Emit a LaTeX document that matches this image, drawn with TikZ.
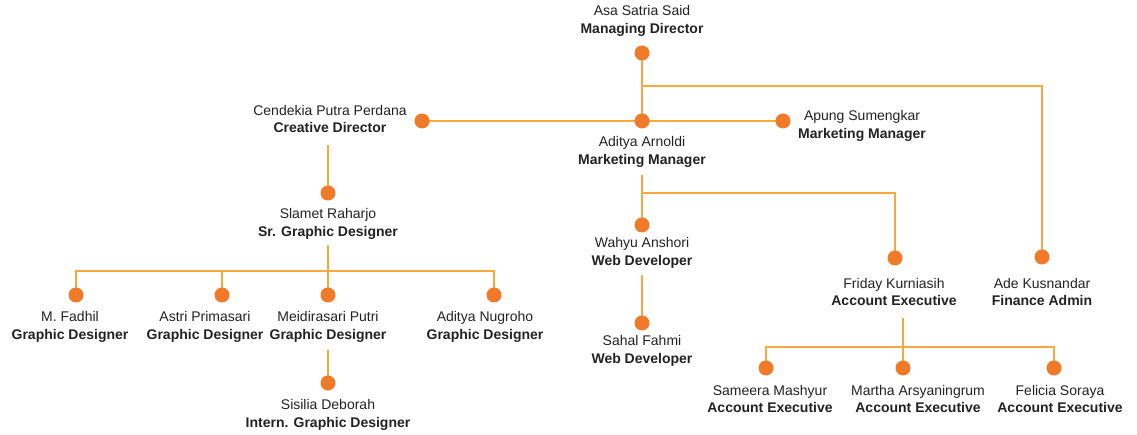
\documentclass[tikz,border=0pt]{standalone}
\usepackage{fontspec}
\setmainfont{Liberation Sans}
\definecolor{dotc}{HTML}{F07A28}
\definecolor{linec}{HTML}{F6A93C}
\definecolor{txtc}{HTML}{222222}
\pgfdeclarelayer{bg}
\pgfsetlayers{bg,main}
\tikzset{
  pdot/.style={circle,fill=dotc,draw=none,minimum size=15pt,inner sep=0pt},
  person/.style={align=center,inner sep=0pt,text=txtc,font=\fontsize{14}{17.5}\selectfont},
  conn/.style={draw=linec,line width=2pt}
}
\newcommand{\pp}[2]{#1\\\textbf{#2}}
\begin{document}
\begin{tikzpicture}[x=1pt,y=-1pt]
\useasboundingbox (0,0) rectangle (1137,435);
% texts
\node[person] (tmd) at (642,21) {\pp{Asa Satria Said}{Managing Director}};
\node[person] (tcd) at (330,119) {\pp{Cendekia Putra Perdana}{Creative Director}};
\node[person] (tap) at (862,126) {\pp{Apung Sumengkar}{Marketing Manager}};
\node[person] (taa) at (642,152) {\pp{Aditya Arnoldi}{Marketing Manager}};
\node[person] (tsr) at (328,224) {\pp{Slamet Raharjo}{Sr. Graphic Designer}};
\node[person] (tmf) at (70,327) {\pp{M. Fadhil}{Graphic Designer}};
\node[person] (tas) at (205,327) {\pp{Astri Primasari}{Graphic Designer}};
\node[person] (tmp) at (328,327) {\pp{Meidirasari Putri}{Graphic Designer}};
\node[person] (tan) at (485,327) {\pp{Aditya Nugroho}{Graphic Designer}};
\node[person] (tsd) at (328,415) {\pp{Sisilia Deborah}{Intern. Graphic Designer}};
\node[person] (twa) at (642,253) {\pp{Wahyu Anshori}{Web Developer}};
\node[person] (tsf) at (642,351) {\pp{Sahal Fahmi}{Web Developer}};
\node[person] (tfk) at (894,292) {\pp{Friday Kurniasih}{Account Executive}};
\node[person] (tak) at (1042,292) {\pp{Ade Kusnandar}{Finance Admin}};
\node[person] (tsm) at (770,399) {\pp{Sameera Mashyur}{Account Executive}};
\node[person] (tma) at (918,399) {\pp{Martha Arsyaningrum}{Account Executive}};
\node[person] (tfs) at (1060,399) {\pp{Felicia Soraya}{Account Executive}};
% dots
\node[pdot] (dmd) at (642,53) {};
\node[pdot] (daa) at (642,121) {};
\node[pdot] (dcd) at (422,121) {};
\node[pdot] (dap) at (783,121) {};
\node[pdot] (dak) at (1042,257) {};
\node[pdot] (dsr) at (328,193) {};
\node[pdot] (dmf) at (76,295) {};
\node[pdot] (das) at (222,295) {};
\node[pdot] (dmp) at (328,295) {};
\node[pdot] (dan) at (494,295) {};
\node[pdot] (dsd) at (328,383) {};
\node[pdot] (dwa) at (642,225) {};
\node[pdot] (dsf) at (642,323) {};
\node[pdot] (dfk) at (895,258) {};
\node[pdot] (dsm) at (766,368) {};
\node[pdot] (dma) at (903,368) {};
\node[pdot] (dfs) at (1054,368) {};
% junction coordinates
\coordinate (jmd) at (642,86);
\coordinate (scd) at (328,145);
\coordinate (ssr) at (328,245);
\coordinate (jsr) at (328,271);
\coordinate (smp) at (328,350);
\coordinate (saa) at (642,175);
\coordinate (jaa) at (642,193);
\coordinate (swa) at (642,275);
\coordinate (sfk) at (903,318);
\coordinate (jfk) at (903,347);
% connectors behind the dots
\begin{pgfonlayer}{bg}
\draw[conn] (dmd.center) -- (daa.center);
\draw[conn] (jmd) -| (dak.center);
\draw[conn] (dcd.center) -- (dap.center);
\draw[conn] (scd) -- (dsr.center);
\draw[conn] (ssr) -- (jsr);
\draw[conn] (dmf.center) |- (jsr) -| (dan.center);
\draw[conn] (jsr) -| (das.center);
\draw[conn] (jsr) -- (dmp.center);
\draw[conn] (smp) -- (dsd.center);
\draw[conn] (saa) -- (dwa.center);
\draw[conn] (jaa) -| (dfk.center);
\draw[conn] (swa) -- (dsf.center);
\draw[conn] (sfk) -- (jfk);
\draw[conn] (dsm.center) |- (jfk) -| (dfs.center);
\draw[conn] (jfk) -- (dma.center);
\end{pgfonlayer}
\end{tikzpicture}
\end{document}
